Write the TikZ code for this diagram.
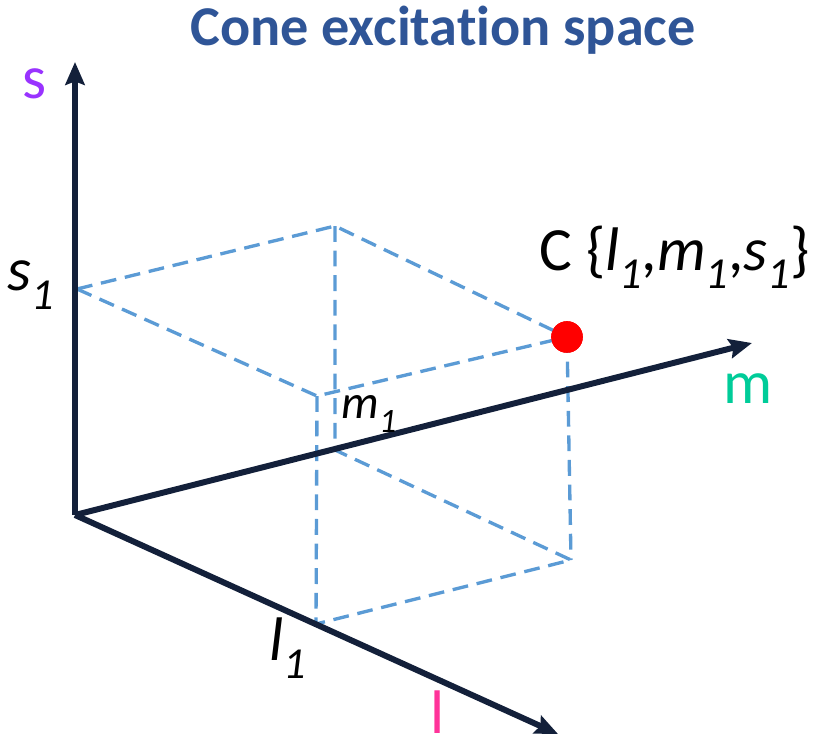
\documentclass[tikz,border=0pt]{standalone}
\usepackage{fontspec}
\setmainfont{Carlito}[Ligatures=NoCommon]
\usetikzlibrary{arrows.meta}
\definecolor{axiscol}{HTML}{13203A}
\definecolor{guide}{HTML}{5B9BD5}
\definecolor{titleblue}{HTML}{2F5597}
\definecolor{scone}{HTML}{9933FF}
\definecolor{mcone}{HTML}{00CC99}
\definecolor{lcone}{HTML}{FF3399}
\newcommand{\low}[1]{\raisebox{-0.3em}{\scalebox{0.72}{#1}}}

\begin{document}
\begin{tikzpicture}[x=0.02cm,y=-0.02cm,
  axisline/.style={axiscol,line width=3.4pt,-{Stealth[length=13pt,width=11pt,inset=2pt]}},
  guideline/.style={guide,line width=1.9pt,dash pattern=on 9pt off 5pt},
  lbl/.style={font=\fontsize{35}{42}\selectfont,inner sep=0pt},
  smalllbl/.style={font=\fontsize{27}{32}\selectfont,inner sep=0pt},
  dot/.style={circle,fill=red,inner sep=0pt,minimum size=18pt}]
  \useasboundingbox (0,0) rectangle (825,751);

  % Title
  \node[font=\fontsize{32}{38}\selectfont\bfseries,text=titleblue,anchor=base] (title) at (443,45) {Cone excitation space};

  % Axis end points
  \coordinate (O) at (75,515);
  \coordinate (stip) at (75,62);
  \coordinate (mtip) at (752,343);
  \coordinate (ltip) at (558,734);

  % Box corners
  \coordinate (s1) at (77,289);
  \coordinate (m1) at (335,450);
  \coordinate (l1) at (316,624);
  \coordinate (ms) at (335,226);
  \coordinate (ls) at (317,396);
  \coordinate (lm) at (571,560);
  \node[dot] (c) at (567,337) {};

  % Dashed box
  \draw[guideline] (s1) -- (ms) -- (c.center);
  \draw[guideline] (s1) -- (ls) -- (c.center);
  \draw[guideline] (ms) -- (m1) -- (lm);
  \draw[guideline] (ls) -- (l1) -- (lm);
  \draw[guideline] (c.center) -- (lm);
  \node[dot] at (c) {};

  % Axes
  \draw[axisline] (O) -- (stip);
  \draw[axisline] (O) -- (mtip);
  \draw[axisline] (O) -- (ltip);

  % Labels
  \node[lbl,text=scone] (slbl) at (35,84) {s};
  \node[lbl,text=mcone] (mlbl) at (748,389) {m};
  \node[lbl,text=lcone,anchor=base] (llbl) at (438,733) {l};
  \node[lbl] (s1lbl) at (31,285) {\textit{s\low{1}}};
  \node[lbl] (l1lbl) at (288,648) {\textit{l\low{1}}};
  \node[smalllbl] (m1lbl) at (369,414) {\textit{m\low{1}}};
  \node[lbl,anchor=base west] (clbl) at (539,270) {C \{\textit{l\low{1}},\textit{m\low{1}},\textit{s\low{1}}\}};
\end{tikzpicture}
\end{document}
